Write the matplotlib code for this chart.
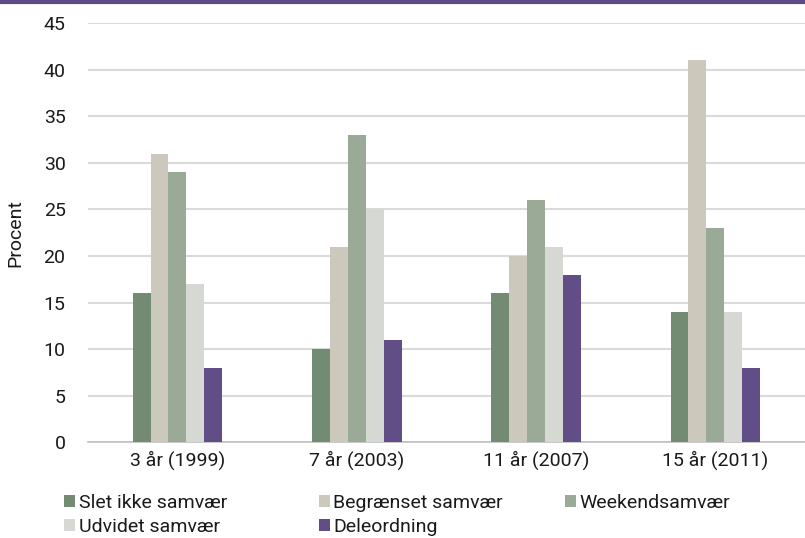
import matplotlib.pyplot as plt
import numpy as np
from matplotlib.lines import Line2D

# data
groups = ['3 år (1999)', '7 år (2003)', '11 år (2007)', '15 år (2011)']
series = ['Slet ikke samvær', 'Begrænset samvær', 'Weekendsamvær',
          'Udvidet samvær', 'Deleordning']
slet_ikke = [16, 10, 16, 14]
begraenset = [31, 21, 20, 41]
weekend = [29, 33, 26, 23]
udvidet = [17, 25, 21, 14]
deleordning = [8, 11, 18, 8]
colors = ['#728b72', '#cdc8bc', '#9aaa96', '#d6d9d3', '#614e87']

plt.rcParams['font.family'] = ['Roboto', 'DejaVu Sans']
plt.rcParams['font.size'] = 14

fig = plt.figure(figsize=(8.05, 5.38), dpi=100)
ax = fig.add_axes([0.109, 0.178, 0.891, 0.779])

x = np.arange(len(groups))
w = 0.1
values = [slet_ikke, begraenset, weekend, udvidet, deleordning]
for i, (name, vals) in enumerate(zip(series, values)):
    ax.bar(x + (i - 2) * w, vals, width=w, color=colors[i], label=name, zorder=3)

ax.set_xlim(-0.5, 3.5)
ax.set_ylim(0, 45)
ax.set_yticks(range(0, 46, 5))
ax.set_xticks(x)
ax.set_xticklabels(groups)
ax.set_ylabel('Procent', labelpad=14, color='#1a1a1a')
ax.grid(axis='y', color='#dadada', lw=1.5, zorder=0)
for s in ['top', 'right', 'left']:
    ax.spines[s].set_visible(False)
ax.spines['bottom'].set_color('#bfbfbf')
ax.spines['bottom'].set_linewidth(1.2)
ax.tick_params(axis='both', length=0, colors='#1a1a1a', labelsize=14)
ax.tick_params(axis='y', pad=16)
ax.tick_params(axis='x', pad=6)

# purple line at top
fig.add_artist(Line2D([0, 1], [0.997, 0.997], color='#5f4b84', lw=3))

# legend laid out row-wise: one small legend per column
handles, labels = ax.get_legend_handles_labels()
cols = [[0, 3], [1, 4], [2]]
col_x = [0.068, 0.384, 0.690]
for xs, idx in zip(col_x, cols):
    leg = fig.legend([handles[i] for i in idx], [labels[i] for i in idx],
                     loc='upper left', bbox_to_anchor=(xs, 0.1),
                     frameon=False, handlelength=0.55, handleheight=0.55,
                     handletextpad=0.2, labelspacing=0.3, fontsize=14, borderpad=0)
    for t in leg.get_texts():
        t.set_color('#1a1a1a')

fig.savefig('out.png', dpi=100)
